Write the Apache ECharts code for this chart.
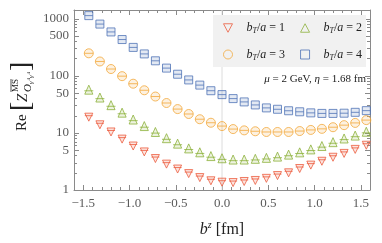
<!DOCTYPE html>
<html><head><meta charset="utf-8">
<script src="https://cdn.jsdelivr.net/npm/echarts@6/dist/echarts.min.js"></script>
<style>html,body{margin:0;padding:0;background:#fff}#c{width:382px;height:243px}</style>
</head><body><div id="c"></div>
<script>
// ---- data ----
const bz = [-1.44,-1.32,-1.20,-1.08,-0.96,-0.84,-0.72,-0.60,-0.48,-0.36,-0.24,-0.12,0.00,0.12,0.24,0.36,0.48,0.60,0.72,0.84,0.96,1.08,1.20,1.32,1.44,1.56];
const bT1 = [18.9,13.9,10.4,7.8,5.9,4.65,3.56,2.84,2.33,1.94,1.65,1.45,1.37,1.35,1.41,1.47,1.60,1.79,2.00,2.38,2.73,3.19,3.75,4.38,5.15,6.09];
const bT2 = [57.4,41.8,30.7,22.7,17.2,13.2,10.4,8.1,6.5,5.36,4.58,3.93,3.60,3.42,3.42,3.52,3.66,3.85,4.17,4.57,5.15,5.90,6.90,8.00,9.00,10.5];
const bT3 = [249,179,132,99,73,56,43.5,33.5,26.2,21.5,17.4,15.1,13.2,11.7,11.1,10.7,10.4,10.4,10.4,10.8,11.3,11.8,12.6,13.7,15.0,16.8];
const bT4 = [1140,810,590,434,316,243,184,137,107,85,69,55,47,40,35,31,27.5,26,24.5,23.5,22.5,22,22,22.2,23,24.6];
const xTicks = [-1.5,-1.0,-0.5,0.0,0.5,1.0,1.5];
const yTicks = [1,5,10,50,100,500,1000];
const yMinor = [2,3,4,6,7,8,9,20,30,40,60,70,80,90,200,300,400,600,700,800,900];
const seriesNames = ['bT1','bT2','bT3','bT4'];
const legendLabels = ['1','2','3','4'];
const refLineX = 0;

const SERIF = '"Liberation Serif","DejaVu Serif",serif';
const colors = ['#ec5d3e','#8db23c','#f2a93c','#5074b6'];
const fills = ['rgba(236,93,62,0.2)','rgba(141,178,60,0.2)','rgba(242,169,60,0.2)','rgba(80,116,182,0.2)'];
const paths = [
  'path://M1 3 H19 L10 19 Z M1 8 H19',
  'path://M10 1 L19 17 H1 Z M0 11 H20',
  'path://M1 10 A9 9 0 1 1 19 10 A9 9 0 1 1 1 10 Z M1 10 H19',
  'path://M2 2 H18 V18 H2 Z M2 10 H18'
];
const legendIcons = [
  'path://M1 2 H19 L10 19 Z',
  'path://M10 1 L19 18 H1 Z',
  'path://M1 10 A9 9 0 1 1 19 10 A9 9 0 1 1 1 10 Z',
  'path://M2 2 H18 V18 H2 Z'
];
const sizes = [8,9,9,8];
const values = [bT1,bT2,bT3,bT4];

const chart = echarts.init(document.getElementById('c'), null, {renderer:'canvas'});
const fmtX = v => (v < 0 ? '\u2212' : '') + Math.abs(v).toFixed(1);
const axisGray = '#8a8a8a';
const labelStyle = {color:'#5a5a5a', fontFamily:SERIF, fontSize:13};
const yMin = 1, yMax = 1430;

const series = values.map((vals,i)=>({
  name: seriesNames[i],
  type:'scatter',
  xAxisIndex:0, yAxisIndex:0,
  data: bz.map((x,k)=>[x, vals[k]]),
  symbol: paths[i],
  symbolSize: sizes[i],
  itemStyle:{color:fills[i], borderColor:colors[i], borderWidth:1},
  z: 3
}));
// light vertical reference line at b^z = 0
series.push({
  name:'ref', type:'line', xAxisIndex:0, yAxisIndex:0,
  data:[[refLineX, yMin],[refLineX, yMax]],
  symbol:'none', silent:true, z:1,
  lineStyle:{color:'#dcdcdc', width:1}
});

function legendCfg(idx, top){
  return {
    show:true, top: top, left: 223, padding:0,
    orient:'horizontal', itemGap: 15, itemWidth: 9, itemHeight: 9,
    symbolKeepAspect:true,
    data: idx.map(i=>({name:seriesNames[i], icon:legendIcons[i],
      itemStyle:{color:'rgba(255,255,255,0)', borderColor:colors[i], borderWidth:1}})),
    formatter: name => {
      const i = seriesNames.indexOf(name);
      return '{sp|}{i|b}{s|T}{n|/}{i|a}{n| = ' + legendLabels[i] + '}';
    },
    textStyle:{
      rich:{
        sp:{width:9, lineHeight:14},
        i:{fontFamily:SERIF, fontStyle:'italic', fontSize:12, color:'#222', lineHeight:14, verticalAlign:'middle'},
        s:{fontFamily:SERIF, fontStyle:'italic', fontSize:8, color:'#222', lineHeight:14, verticalAlign:'bottom'},
        n:{fontFamily:SERIF, fontSize:12, color:'#222', lineHeight:14, verticalAlign:'middle'}
      }
    },
    selectedMode:false, z:6
  };
}

function xAx(pos, major){
  const base = {type:'value', min:-1.6, max:1.6, position:pos, splitLine:{show:false}};
  if (major) return Object.assign(base, {
    axisLine:{show:true, onZero:false, lineStyle:{color:axisGray, width:1}},
    axisTick:{show:true, inside:true, length:5, customValues:xTicks, lineStyle:{color:axisGray}},
    axisLabel:{show:pos==='bottom', customValues:xTicks, formatter:fmtX, margin:7, ...labelStyle}});
  return Object.assign(base, {interval:0.1,
    axisLine:{show:false, onZero:false},
    axisTick:{show:true, inside:true, length:3, lineStyle:{color:axisGray}},
    axisLabel:{show:false}});
}
function yAx(pos, major){
  const base = {type:'log', logBase:10, min:yMin, max:yMax, position:pos, splitLine:{show:false}};
  if (major) return Object.assign(base, {
    axisLine:{show:true, onZero:false, lineStyle:{color:axisGray, width:1}},
    axisTick:{show:true, inside:true, length:5, customValues:yTicks, lineStyle:{color:axisGray}},
    axisLabel:{show:pos==='left', customValues:yTicks, margin:5, formatter: v => String(Math.round(v)), ...labelStyle}});
  return Object.assign(base, {
    axisLine:{show:false, onZero:false},
    axisTick:{show:true, inside:true, length:3, customValues:yMinor, lineStyle:{color:axisGray}},
    axisLabel:{show:false}});
}

const xMain = xAx('bottom', true);
xMain.name = '{i|b}{sup|z}{n| [fm]}';
xMain.nameLocation = 'middle';
xMain.nameGap = 30;
xMain.nameTextStyle = {rich:{
  i:{fontFamily:SERIF, fontStyle:'italic', fontSize:16, color:'#222', lineHeight:18, verticalAlign:'bottom'},
  sup:{fontFamily:SERIF, fontStyle:'italic', fontSize:10, color:'#222', lineHeight:18, verticalAlign:'top'},
  n:{fontFamily:SERIF, fontSize:16, color:'#222', lineHeight:18, verticalAlign:'bottom'}
}};

const option = {
  animation:false,
  backgroundColor:'#fff',
  grid:{left:74, right:12, top:10, bottom:50, containLabel:false},
  xAxis:[ xMain, xAx('bottom', false), xAx('top', true), xAx('top', false) ],
  yAxis:[ yAx('left', true), yAx('left', false), yAx('right', true), yAx('right', false) ],
  legend:[ legendCfg([0,1], 22), legendCfg([2,3], 48.5) ],
  graphic:[
    {type:'rect', left:213, top:15, z:5, silent:true,
     shape:{width:153, height:52}, style:{fill:'#f1f1f1'}},
    {type:'text', right:16, top:74, z:6, silent:true,
     style:{text:'{i|\u03bc}{n| = 2 GeV, }{i|\u03b7}{n| = 1.68 fm}',
       rich:{i:{fontFamily:SERIF, fontStyle:'italic', fontSize:11, fill:'#222'},
             n:{fontFamily:SERIF, fontSize:11, fill:'#222'}}}},
    {type:'group', x:22, y:97, rotation:Math.PI/2, silent:true, children:[
      {type:'text', x:-34, y:0, style:{text:'Re', font:'15px '+SERIF, fill:'#222', textVerticalAlign:'middle'}},
      {type:'text', x:-14, y:0, style:{text:'[', font:'28px '+SERIF, fill:'#222', textVerticalAlign:'middle'}},
      {type:'text', x:-5, y:1, style:{text:'Z', font:'italic 15px '+SERIF, fill:'#222', textVerticalAlign:'middle'}},
      {type:'text', x:5, y:-6, style:{text:'MS', font:'9px '+SERIF, fill:'#222', textVerticalAlign:'middle'}},
      {type:'line', shape:{x1:5, y1:-11, x2:18, y2:-11}, style:{stroke:'#222', lineWidth:0.8}},
      {type:'text', x:5, y:6, style:{text:'O', font:'italic 11px '+SERIF, fill:'#222', textVerticalAlign:'middle'}},
      {type:'text', x:13, y:9, style:{text:'\u03b3', font:'italic 7px '+SERIF, fill:'#222', textVerticalAlign:'middle'}},
      {type:'text', x:16.5, y:6.5, style:{text:'4', font:'5px '+SERIF, fill:'#222', textVerticalAlign:'middle'}},
      {type:'text', x:19, y:9, style:{text:'\u03b3', font:'italic 7px '+SERIF, fill:'#222', textVerticalAlign:'middle'}},
      {type:'text', x:22.5, y:6.5, style:{text:'4', font:'5px '+SERIF, fill:'#222', textVerticalAlign:'middle'}},
      {type:'text', x:26, y:0, style:{text:']', font:'28px '+SERIF, fill:'#222', textVerticalAlign:'middle'}}
    ]}
  ],
  series: series
};
chart.setOption(option);
</script>
</body></html>
